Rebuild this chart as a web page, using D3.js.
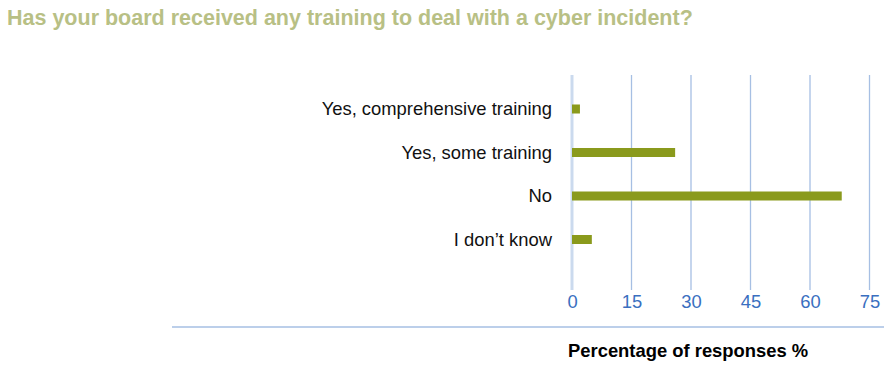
<!DOCTYPE html>
<html>
<head>
<meta charset="utf-8">
<script src="https://cdn.jsdelivr.net/npm/d3@7"></script>
<style>
  body { margin: 0; background: #fff; }
  text { font-family: "Liberation Sans", Arial, Helvetica, sans-serif; }
</style>
</head>
<body>
<div id="chart"></div>
<script>
// chart data
const categories = ['Yes, comprehensive training', 'Yes, some training', 'No', 'I don\u2019t know'];
const values = [2, 26, 68, 5];
const tickValues = [0, 15, 30, 45, 60, 75];

const width = 895;
const height = 369;

const svg = d3.select('#chart')
  .append('svg')
  .attr('width', width)
  .attr('height', height);

// title
svg.append('text')
  .attr('x', 7)
  .attr('y', 25)
  .attr('font-size', '21.5px')
  .attr('font-weight', 'bold')
  .attr('fill', '#b8c085')
  .text('Has your board received any training to deal with a cyber incident?');

const xScale = d3.scaleLinear()
  .domain([0, 75])
  .range([572, 869.5]);

const yScale = d3.scaleBand()
  .domain(categories)
  .range([70, 278.5])
  .paddingInner(0.793)
  .paddingOuter(0.793);

// gridlines
svg.selectAll('line.grid')
  .data(tickValues)
  .enter()
  .append('line')
  .attr('class', 'grid')
  .attr('x1', d => xScale(d))
  .attr('x2', d => xScale(d))
  .attr('y1', 75)
  .attr('y2', 290)
  .attr('stroke', d => d === 0 ? '#cbdaee' : '#a6bfe3')
  .attr('stroke-width', d => d === 0 ? 3 : 1.3);

// bars
svg.selectAll('rect.bar')
  .data(values)
  .enter()
  .append('rect')
  .attr('class', 'bar')
  .attr('x', xScale(0))
  .attr('y', (d, i) => yScale(categories[i]))
  .attr('width', d => xScale(d) - xScale(0))
  .attr('height', yScale.bandwidth())
  .attr('fill', '#8a9a1c');

// category labels
svg.selectAll('text.cat')
  .data(categories)
  .enter()
  .append('text')
  .attr('class', 'cat')
  .attr('x', 552)
  .attr('y', d => yScale(d) + yScale.bandwidth() / 2)
  .attr('dy', '0.35em')
  .attr('text-anchor', 'end')
  .attr('font-size', '18.4px')
  .attr('fill', '#111')
  .text(d => d);

// x axis tick labels
const xAxis = d3.axisBottom(xScale)
  .tickValues(tickValues)
  .tickSize(0)
  .tickPadding(0);

const axisG = svg.append('g')
  .attr('transform', 'translate(0, 295)')
  .call(xAxis);
axisG.select('.domain').remove();
axisG.selectAll('text')
  .attr('font-family', '"Liberation Sans", Arial, sans-serif')
  .attr('font-size', '18.4px')
  .attr('fill', '#3a6fc0');

// baseline under chart
svg.append('line')
  .attr('x1', 172)
  .attr('x2', 884)
  .attr('y1', 327)
  .attr('y2', 327)
  .attr('stroke', '#a6bfe3')
  .attr('stroke-width', 1.3);

// axis title
svg.append('text')
  .attr('x', 568)
  .attr('y', 357)
  .attr('font-size', '18.4px')
  .attr('font-weight', 'bold')
  .attr('fill', '#000')
  .text('Percentage of responses %');
</script>
</body>
</html>
